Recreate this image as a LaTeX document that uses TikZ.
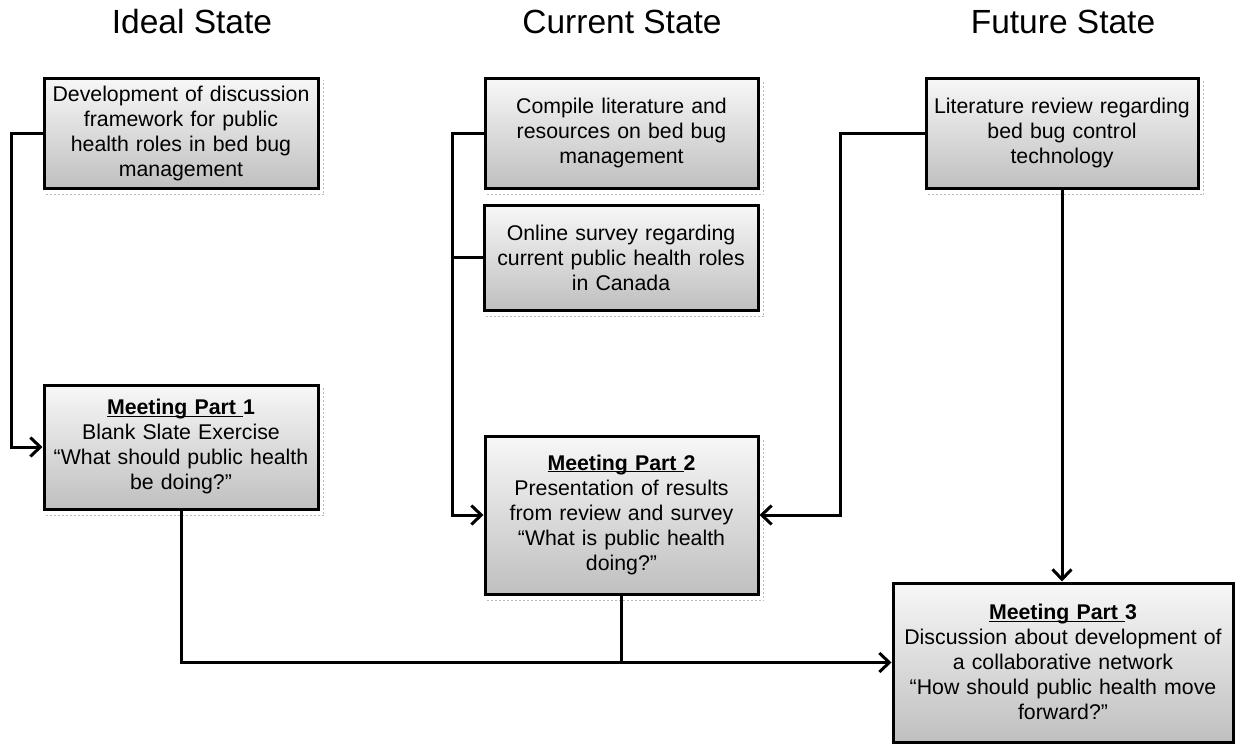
\documentclass[tikz,border=0pt]{standalone}
\usepackage{fontspec}
\setmainfont{Liberation Sans}
\usetikzlibrary{arrows.meta}
\newcommand\mtitle[1]{{\bfseries\underline{\smash{Meeting Part\ }}#1}}
\begin{document}
\begin{tikzpicture}[x=1pt,y=-1pt,
 box/.style={draw=black, line width=3pt, top color=gray!6, bottom color=gray!50, align=center, inner sep=0pt, font=\fontsize{21.3}{25}\selectfont},
 conn/.style={line width=3pt, draw=black},
 arr/.style={conn, -{Straight Barb[length=10pt,width=19pt,line width=3pt]}},
 head/.style={font=\fontsize{33.5}{40}\selectfont},
 shadowline/.style={draw=gray!55, line width=1.5pt, dash pattern=on 2pt off 2pt}]
\useasboundingbox (0,0) rectangle (1236,744);

\node[head, anchor=base] (h1) at (192,33) {Ideal State};
\node[head, anchor=base] (h2) at (622,33) {Current State};
\node[head, anchor=base] (h3) at (1063,33) {Future State};

\node[box, minimum width=274, minimum height=110, text width=266] (A) at (181,133)
 {Development of discussion\\framework for public\\health roles in bed bug\\management};
\node[box, minimum width=273, minimum height=110, text width=265] (B) at (621.5,133)
 {Compile literature and\\resources on bed bug\\management};
\node[box, minimum width=274, minimum height=105, text width=266] (C) at (621,257.5)
 {Online survey regarding\\current public health roles\\in Canada};
\node[box, minimum width=272, minimum height=110, text width=264] (D) at (1062,133)
 {Literature review regarding\\bed bug control\\technology};
\node[box, minimum width=274, minimum height=124, text width=266] (E) at (181,447)
 {\mtitle{1}\\Blank Slate Exercise\\“What should public health\\be doing?”};
\node[box, minimum width=273, minimum height=158, text width=265] (F) at (621.5,515)
 {\mtitle{2}\\Presentation of results\\from review and survey\\“What is public health\\doing?”};
\node[box, minimum width=340, minimum height=159, text width=332] (G) at (1063,662.5)
 {\mtitle{3}\\Discussion about development of\\a collaborative network\\“How should public health move\\forward?”};

\foreach \n in {A,B,C,D,E,F}
  \draw[shadowline] ([shift={(3,5)}]\n.south west) -| ([shift={(4,3)}]\n.north east);

\draw[arr] (A.west) -- ++(-31,0) |- (E.west);
\draw[arr] (B.west) -- ++(-31,0) |- (F.west);
\draw[conn] (C.west) -- ++(-30,0);
\draw[arr] (D.west) -- ++(-84,0) |- (F.east);
\draw[arr] (D.south) -- (D.south |- G.north);
\draw[arr] (E.south) |- (G.west);
\draw[conn] (F.south) -- (F.south |- G.west);
\end{tikzpicture}
\end{document}
